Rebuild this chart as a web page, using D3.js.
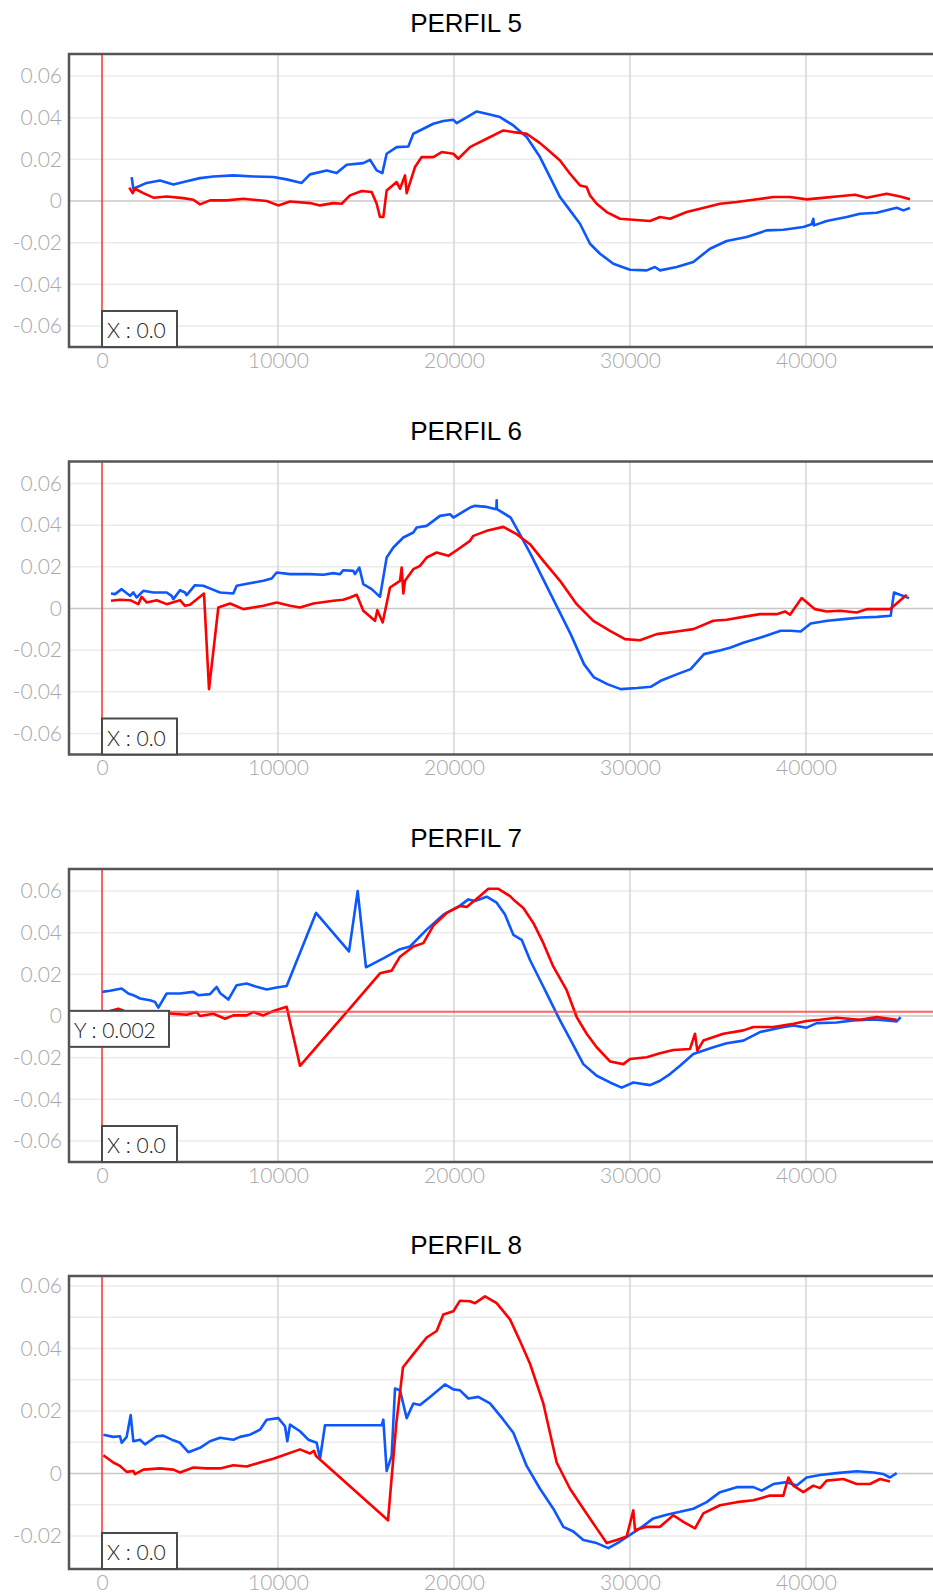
<!DOCTYPE html>
<html>
<head>
<meta charset="utf-8">
<script src="https://cdn.jsdelivr.net/npm/d3@7"></script>
<style>
  body { margin: 0; background: #fff; }
  svg { display: block; }
</style>
</head>
<body>
<div id="chart"></div>
<script>

var width = 933;
var height = 1592;

var titulos = ['PERFIL 5', 'PERFIL 6', 'PERFIL 7', 'PERFIL 8'];
var xTicks = [0, 10000, 20000, 30000, 40000];
var yTicksA = [-0.06, -0.04, -0.02, 0, 0.02, 0.04, 0.06];
var yTicksB = [-0.02, 0, 0.02, 0.04, 0.06];
var yGridB = [-0.02, -0.01, 0, 0.01, 0.02, 0.03, 0.04, 0.05, 0.06];
var cursorX = 0.0;
var cursorY7 = 0.002;

// series azul / rojo, [x, y]
var perfil5Azul = [[1686,0.0115],[1780,0.0059],[2538,0.0087],[3295,0.0099],[4053,0.0079],[4811,0.0095],[5568,0.0110],[6326,0.0118],[7462,0.0123],[8598,0.0118],[9735,0.0115],[10492,0.0104],[11345,0.0087],[11818,0.0128],[12765,0.0147],[13333,0.0134],[13902,0.0174],[14848,0.0182],[15227,0.0198],[15606,0.0147],[15928,0.0134],[16174,0.0227],[16742,0.0259],[17405,0.0262],[17689,0.0323],[18258,0.0347],[18826,0.0371],[19394,0.0384],[19962,0.0390],[20152,0.0374],[20909,0.0411],[21288,0.0430],[21856,0.0419],[22614,0.0403],[23371,0.0363],[24129,0.0307],[24886,0.0211],[25455,0.0115],[26023,0.0019],[26591,-0.0045],[27159,-0.0109],[27727,-0.0205],[28295,-0.0253],[29053,-0.0301],[30000,-0.0330],[30947,-0.0333],[31420,-0.0317],[31705,-0.0333],[32652,-0.0317],[33598,-0.0293],[34545,-0.0229],[35492,-0.0192],[36629,-0.0173],[37765,-0.0141],[38712,-0.0138],[39848,-0.0125],[40322,-0.0112],[40417,-0.0085],[40455,-0.0117],[41174,-0.0096],[42311,-0.0077],[43068,-0.0061],[44015,-0.0056],[45152,-0.0032],[45530,-0.0045],[45909,-0.0034]];
var perfil5Rojo = [[1553,0.0064],[1742,0.0038],[1875,0.0059],[2348,0.0038],[2917,0.0016],[3674,0.0022],[4621,0.0014],[5189,0.0006],[5568,-0.0016],[6136,0.0003],[7083,0.0003],[8030,0.0011],[9356,0],[10019,-0.0021],[10682,-0.0002],[11818,-0.0010],[12386,-0.0021],[13144,-0.0010],[13617,-0.0013],[14091,0.0027],[14754,0.0048],[15322,0.0043],[15606,-0.0013],[15795,-0.0077],[15985,-0.0077],[16174,0.0051],[16742,0.0091],[16932,0.0059],[17216,0.0123],[17311,0.0038],[17784,0.0163],[18163,0.0211],[18826,0.0211],[19299,0.0235],[19962,0.0227],[20246,0.0203],[20909,0.0259],[21098,0.0267],[21856,0.0299],[22803,0.0339],[23371,0.0331],[24129,0.0323],[24886,0.0278],[25265,0.0251],[26023,0.0195],[26591,0.0131],[27159,0.0075],[27538,0.0067],[27727,0.0027],[28106,-0.0013],[28674,-0.0053],[29432,-0.0085],[30189,-0.0090],[31136,-0.0096],[31705,-0.0077],[32273,-0.0085],[33220,-0.0053],[33977,-0.0037],[35114,-0.0013],[36061,-0.0005],[37008,0.0006],[38144,0.0019],[39091,0.0019],[40038,0.0008],[40795,0.0014],[41742,0.0022],[42784,0.0030],[43447,0.0016],[44583,0.0035],[45341,0.0022],[45909,0.0008]];

var perfil6Azul = [[511,0.0072],[739,0.0069],[1117,0.0093],[1591,0.0061],[1780,0.0077],[1970,0.0053],[2348,0.0085],[2917,0.0077],[3674,0.0077],[3958,0.0061],[4053,0.0045],[4432,0.0088],[4716,0.0077],[4811,0.0064],[5284,0.0112],[5758,0.0109],[6231,0.0093],[6705,0.0077],[7462,0.0072],[7652,0.0109],[8314,0.0120],[9167,0.0133],[9640,0.0144],[9924,0.0173],[10682,0.0165],[11818,0.0165],[12576,0.0162],[13144,0.0170],[13523,0.0165],[13712,0.0184],[14280,0.0181],[14375,0.0165],[14621,0.0197],[14848,0.0117],[15322,0.0093],[15795,0.0056],[16174,0.0245],[16553,0.0293],[17121,0.0341],[17689,0.0365],[17879,0.0389],[18447,0.0397],[19205,0.0445],[19773,0.0453],[19962,0.0437],[20909,0.0485],[21193,0.0493],[21856,0.0488],[22405,0.0477],[22424,0.0520],[22443,0.0477],[23220,0.0437],[23693,0.0365],[24356,0.0261],[24924,0.0165],[25492,0.0069],[26061,-0.0027],[26629,-0.0123],[27386,-0.0267],[27955,-0.0331],[28712,-0.0363],[29470,-0.0387],[30417,-0.0382],[31174,-0.0376],[31742,-0.0347],[32689,-0.0315],[33447,-0.0291],[34205,-0.0219],[35152,-0.0200],[35720,-0.0187],[36477,-0.0163],[37424,-0.0139],[38561,-0.0107],[39129,-0.0107],[39697,-0.0110],[40265,-0.0072],[41212,-0.0059],[42159,-0.0051],[43106,-0.0043],[44053,-0.0040],[44811,-0.0035],[45000,0.0077],[45852,0.0050]];
var perfil6Rojo = [[511,0.0037],[1023,0.0042],[1591,0.0040],[2064,0.0021],[2254,0.0056],[2538,0.0029],[3106,0.0040],[3674,0.0021],[4432,0.0040],[4716,0.0013],[5000,0.0018],[5795,0.0072],[6080,-0.0387],[6610,0.0005],[7273,0.0024],[8030,-0.0003],[9167,0.0013],[9924,0.0029],[10682,0.0013],[11250,0.0005],[12008,0.0024],[13144,0.0037],[13712,0.0042],[14091,0.0053],[14470,0.0066],[14848,-0.0011],[15511,-0.0059],[15644,-0.0008],[15947,-0.0067],[16364,0.0101],[16932,0.0133],[17027,0.0197],[17121,0.0072],[17216,0.0133],[17689,0.0189],[18068,0.0205],[18447,0.0245],[19015,0.0269],[19678,0.0253],[20152,0.0280],[20909,0.0325],[21098,0.0349],[21856,0.0373],[22803,0.0392],[23561,0.0357],[24318,0.0309],[25076,0.0229],[26023,0.0133],[26970,0.0021],[27917,-0.0059],[28864,-0.0107],[29716,-0.0147],[30568,-0.0152],[31515,-0.0123],[32652,-0.0110],[33598,-0.0099],[34735,-0.0059],[35492,-0.0054],[36439,-0.0040],[37386,-0.0027],[38333,-0.0027],[38807,-0.0014],[39091,-0.0030],[39754,0.0050],[40511,-0.0003],[41174,-0.0014],[41932,-0.0011],[42879,-0.0019],[43447,-0.0003],[44205,-0.0003],[44773,-0.0003],[45720,0.0066]];

var perfil7Azul = [[0,0.0116],[455,0.0121],[1117,0.0132],[1496,0.0108],[1780,0.0100],[2159,0.0084],[2727,0.0076],[3011,0.0068],[3201,0.0040],[3674,0.0108],[4432,0.0108],[5189,0.0116],[5473,0.0100],[6136,0.0105],[6515,0.0140],[6705,0.0111],[7178,0.0079],[7652,0.0148],[8220,0.0156],[8788,0.0140],[9356,0.0127],[9924,0.0137],[10492,0.0144],[12159,0.0495],[14034,0.0310],[14527,0.0600],[15000,0.0234],[15985,0.0277],[16932,0.0321],[17500,0.0334],[18447,0.0415],[19394,0.0487],[20341,0.0530],[20814,0.0560],[21193,0.0552],[21856,0.0573],[22424,0.0544],[22898,0.0487],[23371,0.0390],[23845,0.0366],[24318,0.0269],[24886,0.0173],[25455,0.0076],[26023,-0.0021],[26591,-0.0110],[27348,-0.0231],[28106,-0.0287],[28864,-0.0319],[29527,-0.0344],[30189,-0.0319],[31136,-0.0332],[31705,-0.0311],[32273,-0.0279],[32841,-0.0239],[33598,-0.0182],[34735,-0.0150],[35492,-0.0131],[36439,-0.0118],[37386,-0.0077],[38523,-0.0056],[39280,-0.0045],[40038,-0.0056],[40606,-0.0034],[41742,-0.0031],[42689,-0.0021],[43826,-0.0016],[44583,-0.0021],[45152,-0.0026],[45379,-0.0005]];
var perfil7Rojo = [[0,0.0023],[455,0.0024],[928,0.0035],[1402,0.0019],[1970,0.0019],[2633,0.0003],[3295,0.0016],[4053,0.0011],[4811,0.0006],[5379,0.0019],[5568,0],[6326,0.0011],[6989,-0.0013],[7462,0.0003],[8220,0.0003],[8598,0.0019],[9167,0.0003],[9735,0.0024],[10492,0.0044],[11250,-0.0239],[13902,0.0019],[15795,0.0205],[16458,0.0218],[16932,0.0285],[17689,0.0334],[18258,0.0350],[18826,0.0434],[19583,0.0495],[20341,0.0528],[20720,0.0524],[21477,0.0576],[21951,0.0611],[22519,0.0611],[23182,0.0576],[23466,0.0552],[23939,0.0519],[24508,0.0447],[25076,0.0350],[25644,0.0237],[26402,0.0124],[26970,-0.0005],[27538,-0.0085],[28106,-0.0150],[28864,-0.0218],[29621,-0.0231],[30000,-0.0206],[30947,-0.0198],[31705,-0.0179],[32462,-0.0163],[33409,-0.0158],[33693,-0.0085],[33826,-0.0166],[34167,-0.0118],[35303,-0.0085],[36439,-0.0069],[37008,-0.0053],[38144,-0.0053],[39280,-0.0037],[40038,-0.0024],[40795,-0.0018],[41742,-0.0008],[43068,-0.0018],[44015,-0.0005],[45152,-0.0018]];

var perfil8Azul = [[76,0.0124],[644,0.0117],[1023,0.0119],[1117,0.0098],[1402,0.0117],[1629,0.0187],[1780,0.0103],[2159,0.0108],[2443,0.0093],[3106,0.0119],[3485,0.0121],[4053,0.0106],[4432,0.0098],[4905,0.0068],[5568,0.0082],[6136,0.0103],[6705,0.0114],[7462,0.0108],[7841,0.0117],[8409,0.0124],[8977,0.0140],[9356,0.0172],[10019,0.0177],[10398,0.0151],[10530,0.0103],[10682,0.0156],[11250,0.0135],[11723,0.0108],[12197,0.0098],[12386,0.0047],[12670,0.0154],[15890,0.0154],[15985,0.0172],[16174,0.0008],[16458,0.0056],[16648,0.0272],[16932,0.0266],[17311,0.0177],[17689,0.0224],[18068,0.0219],[18636,0.0245],[19489,0.0285],[19962,0.0269],[20341,0.0266],[20814,0.0240],[21383,0.0245],[22045,0.0224],[22803,0.0172],[23371,0.0130],[24129,0.0024],[24886,-0.0049],[25644,-0.0113],[26212,-0.0171],[26780,-0.0186],[27348,-0.0213],[28106,-0.0223],[28769,-0.0239],[29432,-0.0218],[30000,-0.0197],[30568,-0.0176],[31326,-0.0144],[32083,-0.0132],[32841,-0.0123],[33598,-0.0113],[34356,-0.0092],[35114,-0.0060],[36061,-0.0044],[37008,-0.0044],[37481,-0.0055],[38144,-0.0034],[38902,-0.0028],[39470,-0.0039],[40038,-0.0013],[40795,-0.0005],[41742,0.0001],[42879,0.0007],[43826,0.0003],[44394,-0.0002],[44773,-0.0013],[45152,0.0001]];
var perfil8Rojo = [[76,0.0058],[644,0.0035],[1023,0.0024],[1402,0.0005],[1780,0.0008],[1875,-0.0002],[2348,0.0012],[3295,0.0016],[4053,0.0012],[4432,0.0003],[5189,0.0019],[5947,0.0016],[6705,0.0016],[7462,0.0026],[8220,0.0022],[8977,0.0035],[9735,0.0047],[10303,0.0058],[11250,0.0077],[11818,0.0064],[12045,0.0072],[12159,0.0056],[16250,-0.0150],[16723,0.0161],[17102,0.0340],[17689,0.0382],[18447,0.0435],[19015,0.0456],[19394,0.0509],[19962,0.0519],[20341,0.0553],[20909,0.0551],[21193,0.0545],[21761,0.0567],[22424,0.0545],[23182,0.0493],[23750,0.0424],[24318,0.0351],[25076,0.0224],[25833,0.0035],[26591,-0.0049],[27348,-0.0113],[28106,-0.0176],[28674,-0.0223],[29242,-0.0213],[29811,-0.0202],[30189,-0.0118],[30284,-0.0181],[30947,-0.0171],[31705,-0.0171],[32462,-0.0134],[33030,-0.0155],[33693,-0.0176],[34167,-0.0128],[35114,-0.0102],[36061,-0.0092],[37008,-0.0086],[37955,-0.0071],[38712,-0.0071],[38996,-0.0013],[39280,-0.0039],[39848,-0.0060],[40417,-0.0039],[40795,-0.0047],[41174,-0.0023],[42121,-0.0018],[42879,-0.0034],[43636,-0.0034],[44205,-0.0018],[44773,-0.0026]];

var azules = [perfil5Azul, perfil6Azul, perfil7Azul, perfil8Azul];
var rojos = [perfil5Rojo, perfil6Rojo, perfil7Rojo, perfil8Rojo];

var marginLeft = 69;
var plotHeight = 293;
var tops = [54, 461.5, 869, 1276];
var labelFont = 'Lato, "DejaVu Sans", sans-serif';

var svg = d3.select('#chart')
    .append('svg')
    .attr('width', width)
    .attr('height', height)
    .style('background-color', '#fff');

// x: 0 -> 102px, 10000 -> 278px
var x = d3.scaleLinear()
    .domain([-1875, 47216])
    .range([marginLeft, width]);

var fmt = function(d) { return d === 0 ? '0' : d3.format('.2f')(d).replace('\u2212', '-'); };

titulos.forEach(function(titulo, i) {

    var top = tops[i];
    var bottom = top + plotHeight;
    var esUltimo = (i === 3);

    var y = d3.scaleLinear()
        .domain(esUltimo ? [-0.0306, 0.0632] : [-0.0701, 0.0706])
        .range([bottom, top]);

    var g = svg.append('g').attr('class', 'panel');

    g.append('text')
        .attr('x', 466)
        .attr('y', top - 22)
        .attr('text-anchor', 'middle')
        .text(titulo)
        .style('fill', '#000')
        .style('font-family', '"Liberation Sans", Arial, sans-serif')
        .style('font-size', '26px');

    g.append('clipPath')
        .attr('id', 'clip' + i)
        .append('rect')
        .attr('x', marginLeft)
        .attr('y', top)
        .attr('width', width - marginLeft)
        .attr('height', plotHeight);

    // grid
    var gridY = esUltimo ? yGridB : yTicksA;
    g.selectAll('.hgrid')
        .data(gridY)
        .enter()
        .append('line')
        .attr('x1', marginLeft)
        .attr('x2', width)
        .attr('y1', function(d) { return y(d); })
        .attr('y2', function(d) { return y(d); })
        .attr('stroke', function(d) { return d === 0 ? '#c8c8c8' : '#ebebeb'; })
        .attr('stroke-width', 1.5);

    g.selectAll('.vgrid')
        .data(xTicks.slice(1))
        .enter()
        .append('line')
        .attr('x1', function(d) { return x(d); })
        .attr('x2', function(d) { return x(d); })
        .attr('y1', top)
        .attr('y2', bottom)
        .attr('stroke', '#d6d6d6')
        .attr('stroke-width', 1.5);

    // axes labels
    var yAxis = d3.axisLeft(y)
        .tickValues(esUltimo ? yTicksB : yTicksA)
        .tickFormat(fmt)
        .tickSize(0)
        .tickPadding(7);

    var yG = g.append('g')
        .attr('transform', 'translate(' + marginLeft + ',0)')
        .call(yAxis);
    yG.select('.domain').remove();
    yG.selectAll('text')
        .style('fill', '#a8a8a8')
        .style('font-family', labelFont)
        .style('font-weight', '300')
        .style('font-size', '21px');

    var xAxis = d3.axisBottom(x)
        .tickValues(xTicks)
        .tickFormat(d3.format('d'))
        .tickSize(0)
        .tickPadding(6);

    var xG = g.append('g')
        .attr('transform', 'translate(0,' + bottom + ')')
        .call(xAxis);
    xG.select('.domain').remove();
    xG.selectAll('text')
        .style('fill', '#a8a8a8')
        .style('font-family', labelFont)
        .style('font-weight', '300')
        .style('font-size', '21px');

    // series
    var line = d3.line()
        .x(function(d) { return x(d[0]); })
        .y(function(d) { return y(d[1]); });

    var lines = g.append('g').attr('clip-path', 'url(#clip' + i + ')');

    lines.append('path')
        .datum(azules[i])
        .attr('fill', 'none')
        .attr('stroke', '#0d57ff')
        .attr('stroke-width', 2.6)
        .attr('stroke-linejoin', 'round')
        .attr('d', line);

    lines.append('path')
        .datum(rojos[i])
        .attr('fill', 'none')
        .attr('stroke', '#ff0000')
        .attr('stroke-width', 2.6)
        .attr('stroke-linejoin', 'round')
        .attr('d', line);

    // cursor X
    g.append('line')
        .attr('x1', x(cursorX))
        .attr('x2', x(cursorX))
        .attr('y1', top)
        .attr('y2', bottom)
        .attr('stroke', '#ff3b3b')
        .attr('stroke-opacity', 0.8)
        .attr('stroke-width', 2);

    // cursor Y (perfil 7)
    if (i === 2) {
        g.append('line')
            .attr('x1', marginLeft)
            .attr('x2', width)
            .attr('y1', y(cursorY7))
            .attr('y2', y(cursorY7))
            .attr('stroke', '#ff3b3b')
            .attr('stroke-opacity', 0.8)
            .attr('stroke-width', 2);

        g.append('rect')
            .attr('x', marginLeft)
            .attr('y', y(cursorY7) - 1)
            .attr('width', 100)
            .attr('height', 36)
            .attr('fill', '#fff')
            .attr('stroke', '#4a4a4a')
            .attr('stroke-width', 2);

        g.append('text')
            .attr('x', marginLeft + 5)
            .attr('y', y(cursorY7) + 26)
            .text('Y : ' + cursorY7)
            .style('fill', '#222')
            .style('font-family', labelFont)
            .style('font-weight', '300')
            .style('font-size', '21px');
    }

    // frame (left, top, bottom)
    g.append('path')
        .attr('d', 'M' + width + ',' + top + 'H' + marginLeft + 'V' + bottom + 'H' + width)
        .attr('fill', 'none')
        .attr('stroke', '#555')
        .attr('stroke-width', 2.5);

    g.append('rect')
        .attr('x', x(cursorX))
        .attr('y', bottom - 36)
        .attr('width', 75)
        .attr('height', 36)
        .attr('fill', '#fff')
        .attr('stroke', '#4a4a4a')
        .attr('stroke-width', 2);

    g.append('text')
        .attr('x', x(cursorX) + 5)
        .attr('y', bottom - 9)
        .text('X : ' + cursorX.toFixed(1))
        .style('fill', '#222')
        .style('font-family', labelFont)
        .style('font-weight', '300')
        .style('font-size', '21px');
});

</script>
</body>
</html>
